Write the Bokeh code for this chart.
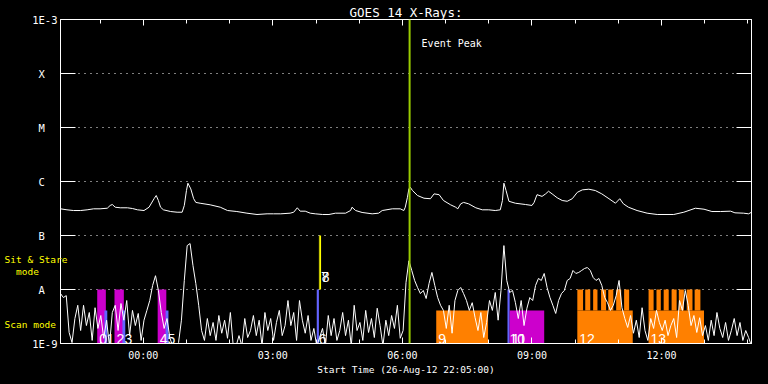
import numpy as np
import pandas as pd
from bokeh.plotting import figure
from bokeh.models import (Range1d, FixedTicker, DatetimeTickFormatter, CustomJSTickFormatter,
                          DatetimeAxis, LogAxis, Label, Span, ColumnDataSource)
from bokeh.core.properties import value
from bokeh.embed import file_html
from bokeh.resources import INLINE

# ---------------- data ----------------
START = "2012-08-26 22:05"
END = "2012-08-27 14:05"

# long channel (1-8 A), flux W/m^2
long_time = ["22:05", "22:14", "22:23", "22:33", "22:42", "22:51", "23:00", "23:10", "23:14", "23:17",
             "23:21", "23:28", "23:38", "23:45", "23:52", "00:01", "00:08", "00:15", "00:18", "00:21",
             "00:24", "00:28", "00:38", "00:47", "00:54", "00:57", "01:00", "01:02", "01:06", "01:10",
             "01:13", "01:19", "01:33", "01:47", "01:57", "02:10", "02:24", "02:38", "02:52", "03:01",
             "03:11", "03:24", "03:29", "03:34", "03:38", "03:45", "03:52", "03:59", "04:09", "04:18",
             "04:27", "04:41", "04:48", "04:50", "04:55", "05:04", "05:18", "05:27", "05:32", "05:46",
             "05:57", "06:02", "06:04", "06:07", "06:09", "06:11", "06:14", "06:21", "06:30", "06:39",
             "06:44", "06:51", "06:57", "07:07", "07:14", "07:17", "07:21", "07:25", "07:32", "07:42",
             "07:51", "08:00", "08:09", "08:16", "08:19", "08:21", "08:24", "08:28", "08:37", "08:51",
             "09:00", "09:03", "09:07", "09:14", "09:19", "09:23", "09:28", "09:35", "09:42", "09:49",
             "09:56", "10:03", "10:10", "10:19", "10:28", "10:37", "10:47", "10:56", "11:02", "11:07",
             "11:14", "11:26", "11:40", "11:54", "12:17", "12:31", "12:47", "12:59", "13:10", "13:22",
             "13:36", "13:42", "13:54", "14:01", "14:05"]
long_flux = [3.12e-7, 2.99e-7, 2.90e-7, 2.90e-7, 2.99e-7, 3.12e-7, 3.12e-7, 3.20e-7, 3.60e-7, 3.75e-7,
             3.34e-7, 3.26e-7, 3.26e-7, 3.16e-7, 2.99e-7, 2.90e-7, 3.34e-7, 4.80e-7, 5.50e-7, 4.45e-7,
             3.34e-7, 2.99e-7, 2.78e-7, 2.70e-7, 2.70e-7, 3.60e-7, 6.80e-7, 9.30e-7, 7.30e-7, 4.80e-7,
             4.10e-7, 3.96e-7, 3.70e-7, 3.34e-7, 2.90e-7, 2.78e-7, 2.59e-7, 2.45e-7, 2.52e-7, 2.52e-7,
             2.52e-7, 2.59e-7, 2.70e-7, 3.26e-7, 2.82e-7, 2.82e-7, 2.59e-7, 2.52e-7, 2.45e-7, 2.45e-7,
             2.59e-7, 2.59e-7, 2.90e-7, 3.34e-7, 2.90e-7, 2.67e-7, 2.52e-7, 2.59e-7, 2.90e-7, 3.12e-7,
             3.12e-7, 2.90e-7, 3.34e-7, 5.10e-7, 7.30e-7, 7.80e-7, 6.80e-7, 5.50e-7, 4.90e-7, 4.80e-7,
             5.90e-7, 5.70e-7, 4.45e-7, 3.70e-7, 3.34e-7, 3.12e-7, 3.86e-7, 4.10e-7, 3.86e-7, 3.26e-7,
             2.99e-7, 2.99e-7, 2.90e-7, 2.99e-7, 4.45e-7, 9.30e-7, 6.80e-7, 4.30e-7, 3.96e-7, 3.75e-7,
             3.60e-7, 4.10e-7, 5.70e-7, 5.30e-7, 5.90e-7, 6.60e-7, 5.90e-7, 5.00e-7, 4.45e-7, 4.30e-7,
             4.80e-7, 6.30e-7, 7.00e-7, 7.20e-7, 6.80e-7, 5.90e-7, 4.80e-7, 3.96e-7, 4.80e-7, 3.86e-7,
             3.34e-7, 2.90e-7, 2.59e-7, 2.45e-7, 2.45e-7, 2.70e-7, 3.20e-7, 3.07e-7, 2.78e-7, 2.78e-7,
             2.82e-7, 2.63e-7, 2.59e-7, 2.52e-7, 2.70e-7]

# short channel (0.5-4 A), one sample every 4 minutes from 22:05
short_cadence = "4min"
short_flux = [8.4e-9, 7.1e-9, 7.7e-9, 1.6e-9, 1.04e-9, 2.9e-9, 5.1e-9, 1.74e-9, 5.1e-9, 2.15e-9,
              3.75e-9, 1.14e-9, 4.6e-9, 1.9e-9, 3.3e-9, 1.25e-9, 2.7e-9, 9e-10, 3.75e-9, 5.1e-9,
              1.74e-9, 5.5e-9, 2.7e-9, 6.25e-9, 1.4e-9, 4.1e-9, 2.15e-9, 3.6e-9, 1.14e-9, 2.7e-9,
              4.1e-9, 6.25e-9, 1.19e-8, 1.8e-8, 9.6e-9, 3.75e-9, 1.9e-9, 2.9e-9, 1.25e-9, 9e-10,
              9e-10, 1.04e-9, 2.7e-9, 1.47e-8, 6.5e-8, 7.1e-8, 2.8e-8, 1.29e-8, 5.1e-9, 1.74e-9,
              1.14e-9, 2.9e-9, 1.4e-9, 2.45e-9, 1.14e-9, 3.3e-9, 1.55e-9, 2.7e-9, 1.25e-9, 3.75e-9,
              9e-10, 9e-10, 1.4e-9, 9e-10, 2.9e-9, 1.29e-9, 1.74e-9, 3.3e-9, 1.4e-9, 2.7e-9,
              9e-10, 3.75e-9, 1.74e-9, 2.9e-9, 1.14e-9, 2.45e-9, 4.1e-9, 1.4e-9, 2.15e-9, 6.25e-9,
              2.15e-9, 3.75e-9, 1.14e-9, 6.25e-9, 2.7e-9, 1.55e-9, 3.3e-9, 1.14e-9, 1.9e-9, 9e-10,
              1.29e-9, 1.9e-9, 9e-10, 3.3e-9, 1.4e-9, 2.9e-9, 1.14e-9, 1.74e-9, 3.75e-9, 1.4e-9,
              2.7e-9, 9e-10, 5.1e-9, 1.74e-9, 2.45e-9, 1.14e-9, 4.1e-9, 1.6e-9, 2.9e-9, 1.29e-9,
              4.5e-9, 2.15e-9, 9e-10, 2.7e-9, 1.4e-9, 3.3e-9, 1.9e-9, 5.1e-9, 1.25e-9, 1.74e-9,
              1.35e-8, 3.4e-8, 2.25e-8, 1.47e-8, 1.09e-8, 8.4e-9, 9.6e-9, 6.8e-9, 1.29e-8, 2.07e-8,
              1.19e-8, 7.1e-9, 5.1e-9, 4.1e-9, 1.9e-9, 5.1e-9, 1.55e-9, 6.25e-9, 9.6e-9, 1.09e-8,
              8.4e-9, 6.25e-9, 4.1e-9, 5.7e-9, 3.0e-9, 1.74e-9, 3.75e-9, 1.29e-9, 2.45e-9, 6.25e-9,
              4.1e-9, 8.8e-9, 2.7e-9, 9.6e-9, 6.5e-8, 1.47e-8, 8.8e-9, 9.6e-9, 5.7e-9, 2.9e-9,
              6.25e-9, 2.15e-9, 4.5e-9, 7.1e-9, 6.25e-9, 1.19e-8, 1.6e-8, 1.47e-8, 1.98e-8, 1.09e-8,
              7.1e-9, 5.1e-9, 3.6e-9, 6.25e-9, 8.4e-9, 9.6e-9, 1.47e-8, 1.6e-8, 2.25e-8, 1.98e-8,
              2.07e-8, 2.25e-8, 2.45e-8, 2.55e-8, 2.25e-8, 1.67e-8, 1.47e-8, 1.6e-8, 1.19e-8, 7.1e-9,
              5.7e-9, 4.1e-9, 5.1e-9, 7.7e-9, 1.47e-8, 4.6e-9, 2.9e-9, 1.98e-9, 3.3e-9, 1.55e-9,
              2.7e-9, 1.29e-9, 4.6e-9, 1.74e-9, 1.14e-9, 2.9e-9, 1.9e-9, 4.1e-9, 2.45e-9, 1.74e-9,
              2.7e-9, 1.4e-9, 2.15e-9, 2.9e-9, 1.29e-9, 6.25e-9, 4.1e-9, 9.6e-9, 5.1e-9, 2.15e-9,
              3.3e-9, 1.6e-9, 3.0e-9, 1.4e-9, 2.15e-9, 1.14e-9, 2.7e-9, 1.4e-9, 3.75e-9, 1.9e-9,
              1.29e-9, 2.45e-9, 1.14e-9, 1.74e-9, 2.9e-9, 1.4e-9, 2.45e-9, 1.14e-9, 1.74e-9, 1.29e-9,
              9e-10]

# observing blocks
bar_id = ["0", "1", "2", "3", "4", "5", "6", "7", "8", "9", "10", "11", "12", "13"]
bar_mode = ["M", "B", "M", "B", "M", "B", "B", "S", "S", "O", "B", "M", "O", "O"]
bar_start = ["22:56", "23:06", "23:20", "23:31", "00:20", "00:31", "04:01", "04:04", "04:05",
             "06:47", "08:26", "08:29", "10:03", "11:42"]
bar_end = ["23:08", "23:10", "23:33", "23:35", "00:32", "00:35", "04:04", "04:05", "04:07",
           "07:59", "08:29", "09:17", "11:20", "12:59"]
bar_low = [1e-9, 1e-9, 1e-9, 1e-9, 1e-9, 1e-9, 1e-9, 1e-8, 1e-8, 1e-9, 1e-9, 1e-9, 1e-9, 1e-9]
bar_high = [1e-8, 4.1e-9, 1e-8, 4.1e-9, 1e-8, 4.1e-9, 1e-8, 1e-7, 1e-7, 4.1e-9, 1e-8, 4.1e-9, 4.1e-9, 4.1e-9]

# repeated short rasters on top of blocks 12 and 13
tooth_start = ["10:03", "10:14", "10:25", "10:36", "10:46", "10:57", "11:08",
               "11:42", "11:53", "12:03", "12:14", "12:24", "12:35", "12:46"]
tooth_end = ["10:11", "10:21", "10:31", "10:43", "10:53", "11:04", "11:15",
             "11:49", "11:59", "12:10", "12:21", "12:31", "12:43", "12:54"]
tooth_low = 4.1e-9
tooth_high = 1e-8

event_time = ["06:10"]

x_tick_times = ["00:00", "03:00", "06:00", "09:00", "12:00"]
y_ticks = [1e-9, 1e-8, 1e-7, 1e-6, 1e-5, 1e-4, 1e-3]
y_tick_labels = ["1E-9", "\u00a0A\u00a0\u00a0", "\u00a0B\u00a0\u00a0", "\u00a0C\u00a0\u00a0",
                 "\u00a0M\u00a0\u00a0", "\u00a0X\u00a0\u00a0", "1E-3"]
# mode legend on the left, at the flux levels of the two bands
mode_ticks = [2.25e-9, 2.15e-8, 3.6e-8]
mode_labels = ["Scan mode\u00a0\u00a0", "\u00a0\u00a0mode\u00a0\u00a0\u00a0\u00a0\u00a0", "Sit & Stare"]

mode_color = {"M": "#cc00cc", "B": "#6464ff", "S": "#ffff00", "O": "#ff8000"}

# ---------------- helpers ----------------
def clock(hhmm):
    day = "2012-08-26" if int(hhmm[:2]) >= 22 else "2012-08-27"
    return pd.Timestamp(f"{day} {hhmm}")

def ms(t):
    return t.value / 1e6

t0, t1 = pd.Timestamp(START), pd.Timestamp(END)
assert len(long_time) == len(long_flux)

long_t = [clock(s) for s in long_time]
short_t = pd.date_range(t0, periods=len(short_flux), freq=short_cadence)

MONO = "DejaVu Sans Mono"

p = figure(width=768, height=384, x_axis_type="datetime", y_axis_type="log",
           x_range=Range1d(t0, t1), y_range=Range1d(1e-9, 1e-3),
           output_backend="svg", toolbar_location=None,
           background_fill_color="black", border_fill_color="black",
           outline_line_color="white", outline_line_width=1,
           min_border_left=60, min_border_right=17, min_border_top=19, min_border_bottom=41)

p.title.text = "GOES 14 X-Rays:"
p.title.align = "center"
p.title.text_color = "white"
p.title.text_font = MONO
p.title.text_font_size = "12.5px"
p.title.text_font_style = "normal"
p.title.standoff = 0
p.title.offset = 0

x_major = [ms(clock(s)) for s in x_tick_times]
x_minor = [ms(t) for t in pd.date_range("2012-08-26 23:00", "2012-08-27 14:00", freq="1h")]

xa = p.xaxis[0]
xa.ticker = FixedTicker(ticks=x_major, minor_ticks=x_minor)
xa.formatter = DatetimeTickFormatter(hours="%H:%M", hourmin="%H:%M", days="%H:%M",
                                     minutes="%H:%M", minsec="%H:%M", strip_leading_zeros=False)
xa.axis_label = "Start Time (26-Aug-12 22:05:00)"
xa.axis_line_color = "white"
xa.major_tick_line_color = "white"
xa.minor_tick_line_color = "white"
xa.major_tick_in = 6
xa.major_tick_out = 0
xa.minor_tick_in = 4
xa.minor_tick_out = 0
xa.major_label_text_color = "white"
xa.major_label_text_font = MONO
xa.major_label_text_font_size = "10px"
xa.major_label_standoff = 6
xa.axis_label_text_color = "white"
xa.axis_label_text_font = MONO
xa.axis_label_text_font_size = "9.5px"
xa.axis_label_text_font_style = "normal"
xa.axis_label_standoff = 0

ya = p.yaxis[0]
ya.ticker = FixedTicker(ticks=y_ticks)
ya.formatter = CustomJSTickFormatter(args=dict(labels=y_tick_labels),
                                     code="return labels[Math.round(Math.log10(tick)) + 9];")
ya.axis_line_color = "white"
ya.major_tick_line_color = "white"
ya.minor_tick_line_color = None
ya.major_tick_in = 15
ya.major_tick_out = 0
ya.major_label_text_color = "white"
ya.major_label_text_font = MONO
ya.major_label_text_font_size = "10.5px"
ya.major_label_standoff = 3

# outer left axis carrying the yellow mode names (no rule, no ticks)
modes_axis = LogAxis(ticker=FixedTicker(ticks=mode_ticks),
                     formatter=CustomJSTickFormatter(args=dict(labels=mode_labels),
                                                     code="return labels[index];"),
                     axis_line_color=None, major_tick_line_color=None, minor_tick_line_color=None,
                     major_tick_in=0, major_tick_out=0, major_label_standoff=-38,
                     major_label_text_color="#ffff00", major_label_text_font=MONO,
                     major_label_text_font_size="9.5px")
p.add_layout(modes_axis, "left")

empty = CustomJSTickFormatter(code="return '';")
top = DatetimeAxis(ticker=FixedTicker(ticks=x_major, minor_ticks=x_minor), formatter=empty,
                   axis_line_color="white", major_tick_line_color="white", minor_tick_line_color="white",
                   major_tick_in=6, major_tick_out=0, minor_tick_in=4, minor_tick_out=0,
                   major_label_standoff=0, major_label_text_font_size="0px")
p.add_layout(top, "above")
right = LogAxis(ticker=FixedTicker(ticks=y_ticks), formatter=empty,
                axis_line_color="white", major_tick_line_color="white", minor_tick_line_color=None,
                major_tick_in=15, major_tick_out=0, major_label_standoff=0,
                major_label_text_font_size="0px")
p.add_layout(right, "right")

p.xgrid.visible = False
p.ygrid.ticker = FixedTicker(ticks=y_ticks)
p.ygrid.grid_line_color = "white"
p.ygrid.grid_line_dash = "1 5"
p.ygrid.grid_line_width = 1

# blocks
bars = ColumnDataSource(dict(
    left=[clock(s) for s in bar_start], right=[clock(s) for s in bar_end],
    bottom=bar_low, top=bar_high, color=[mode_color[m] for m in bar_mode], label=bar_id,
    ly=[1.4e-8 if m == "S" else 1e-9 for m in bar_mode]))
p.quad(left="left", right="right", bottom="bottom", top="top", fill_color="color",
       line_color=None, source=bars)
p.quad(left=[clock(s) for s in tooth_start], right=[clock(s) for s in tooth_end],
       bottom=tooth_low, top=tooth_high, fill_color=mode_color["O"], line_color=None)

p.text(x="left", y="ly", text="label", source=bars, x_offset=2, text_baseline="bottom",
       text_color="white", text_font=value("Liberation Sans"), text_font_size="14px")

# curves
p.line(short_t, short_flux, line_color="white", line_width=1)
p.line(long_t, long_flux, line_color="white", line_width=1)

ev = clock(event_time[0])
p.add_layout(Span(location=ms(ev), dimension="height", line_color="#99cc00", line_width=2))
p.add_layout(Label(x=ms(ev), y=3.6e-4, x_offset=12, text="Event Peak", text_color="white",
                   text_font=MONO, text_font_size="10px", text_baseline="middle"))

html = file_html(p, INLINE, title="GOES 14 X-Rays")
html = html.replace("</head>", "<style>html, body { background: #000; }</style></head>")
open("out.html", "w").write(html)
